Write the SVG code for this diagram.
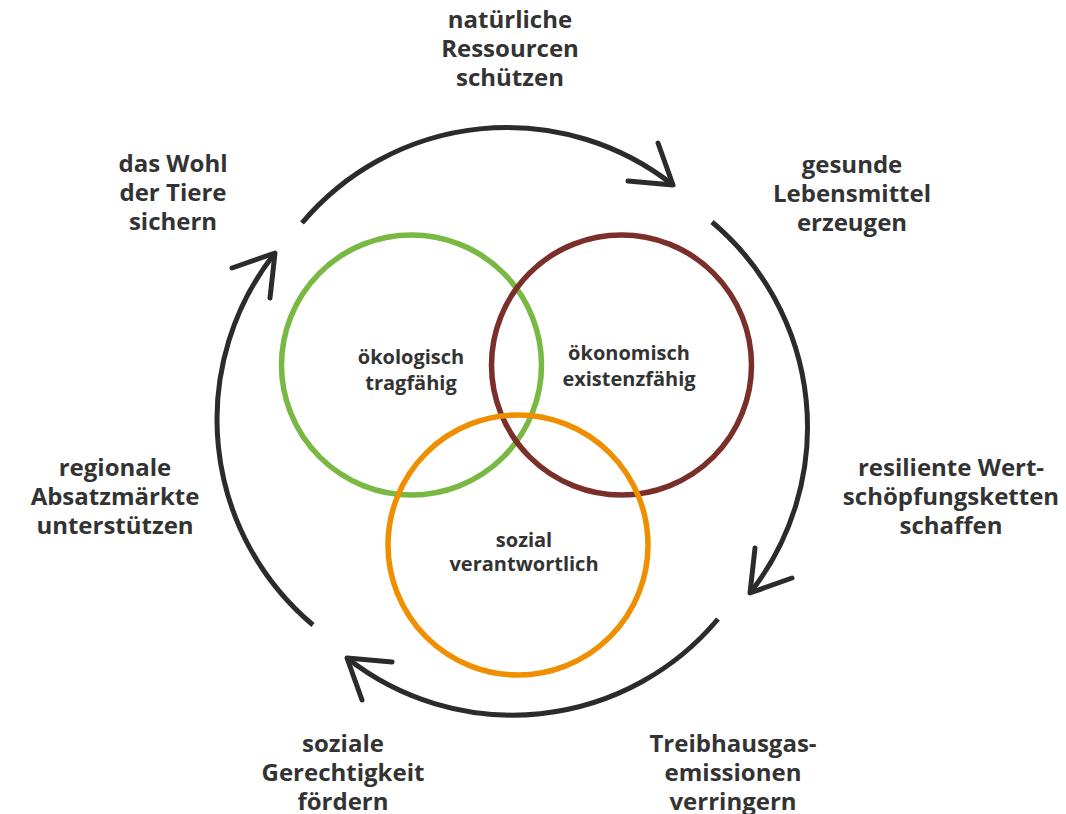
<svg xmlns="http://www.w3.org/2000/svg" width="1066" height="814" viewBox="0 0 1066 814">
<style>
.bg{fill:#ffffff}
.ring{fill:none;stroke-width:5.5}
.arc{fill:none;stroke:#2b2b2b;stroke-width:5;stroke-linecap:butt}
.head{fill:none;stroke:#2b2b2b;stroke-width:5;stroke-linecap:round;stroke-linejoin:round}
.outer{font-family:"Open Sans","Liberation Sans",sans-serif;font-weight:700;font-size:24px;fill:#333333;text-anchor:middle}
.inner{font-family:"Open Sans","Liberation Sans",sans-serif;font-weight:700;font-size:20px;fill:#333333;text-anchor:middle}
</style>
<rect class="bg" x="0" y="0" width="1066" height="814"/>
<g id="circle-oekologisch">
<circle class="ring" cx="411.5" cy="365" r="130" stroke="#78b843"/>
<text class="inner" x="411" y="364">ökologisch</text>
<text class="inner" x="411" y="390">tragfähig</text>
</g>
<g id="circle-oekonomisch">
<circle class="ring" cx="621.5" cy="365" r="130" stroke="#7b2f2b"/>
<text class="inner" x="629" y="360">ökonomisch</text>
<text class="inner" x="629" y="386">existenzfähig</text>
</g>
<g id="circle-sozial">
<circle class="ring" cx="518" cy="545" r="130" stroke="#ef8f00"/>
<text class="inner" x="524" y="547">sozial</text>
<text class="inner" x="524" y="571">verantwortlich</text>
</g>
<g id="connectors">
<path class="arc" d="M 302 223 A 268 268 0 0 1 673 185"/>
<path class="head" d="M 658 143 L 673 185 L 628 181"/>
<path class="arc" d="M 712 222 A 268 268 0 0 1 750 593"/>
<path class="head" d="M 755 548 L 750 593 L 792 578"/>
<path class="arc" d="M 718 619 A 268 268 0 0 1 347 658"/>
<path class="head" d="M 392 662 L 347 658 L 362 700"/>
<path class="arc" d="M 313 625 A 268 268 0 0 1 275 253"/>
<path class="head" d="M 232 268 L 275 253 L 270 298"/>
</g>
<g id="label-ressourcen">
<text class="outer" x="510" y="28">natürliche</text>
<text class="outer" x="510" y="57">Ressourcen</text>
<text class="outer" x="510" y="86">schützen</text>
</g>
<g id="label-lebensmittel">
<text class="outer" x="852" y="173">gesunde</text>
<text class="outer" x="852" y="202">Lebensmittel</text>
<text class="outer" x="852" y="231">erzeugen</text>
</g>
<g id="label-wertschoepfung">
<text class="outer" x="951" y="476">resiliente Wert-</text>
<text class="outer" x="951" y="505">schöpfungsketten</text>
<text class="outer" x="951" y="534">schaffen</text>
</g>
<g id="label-treibhausgas">
<text class="outer" x="733" y="752">Treibhausgas-</text>
<text class="outer" x="733" y="781">emissionen</text>
<text class="outer" x="733" y="810">verringern</text>
</g>
<g id="label-gerechtigkeit">
<text class="outer" x="343" y="752">soziale</text>
<text class="outer" x="343" y="781">Gerechtigkeit</text>
<text class="outer" x="343" y="810">fördern</text>
</g>
<g id="label-absatzmaerkte">
<text class="outer" x="115" y="476">regionale</text>
<text class="outer" x="115" y="505">Absatzmärkte</text>
<text class="outer" x="115" y="534">unterstützen</text>
</g>
<g id="label-tiere">
<text class="outer" x="173" y="172">das Wohl</text>
<text class="outer" x="173" y="201">der Tiere</text>
<text class="outer" x="173" y="230">sichern</text>
</g>
</svg>
